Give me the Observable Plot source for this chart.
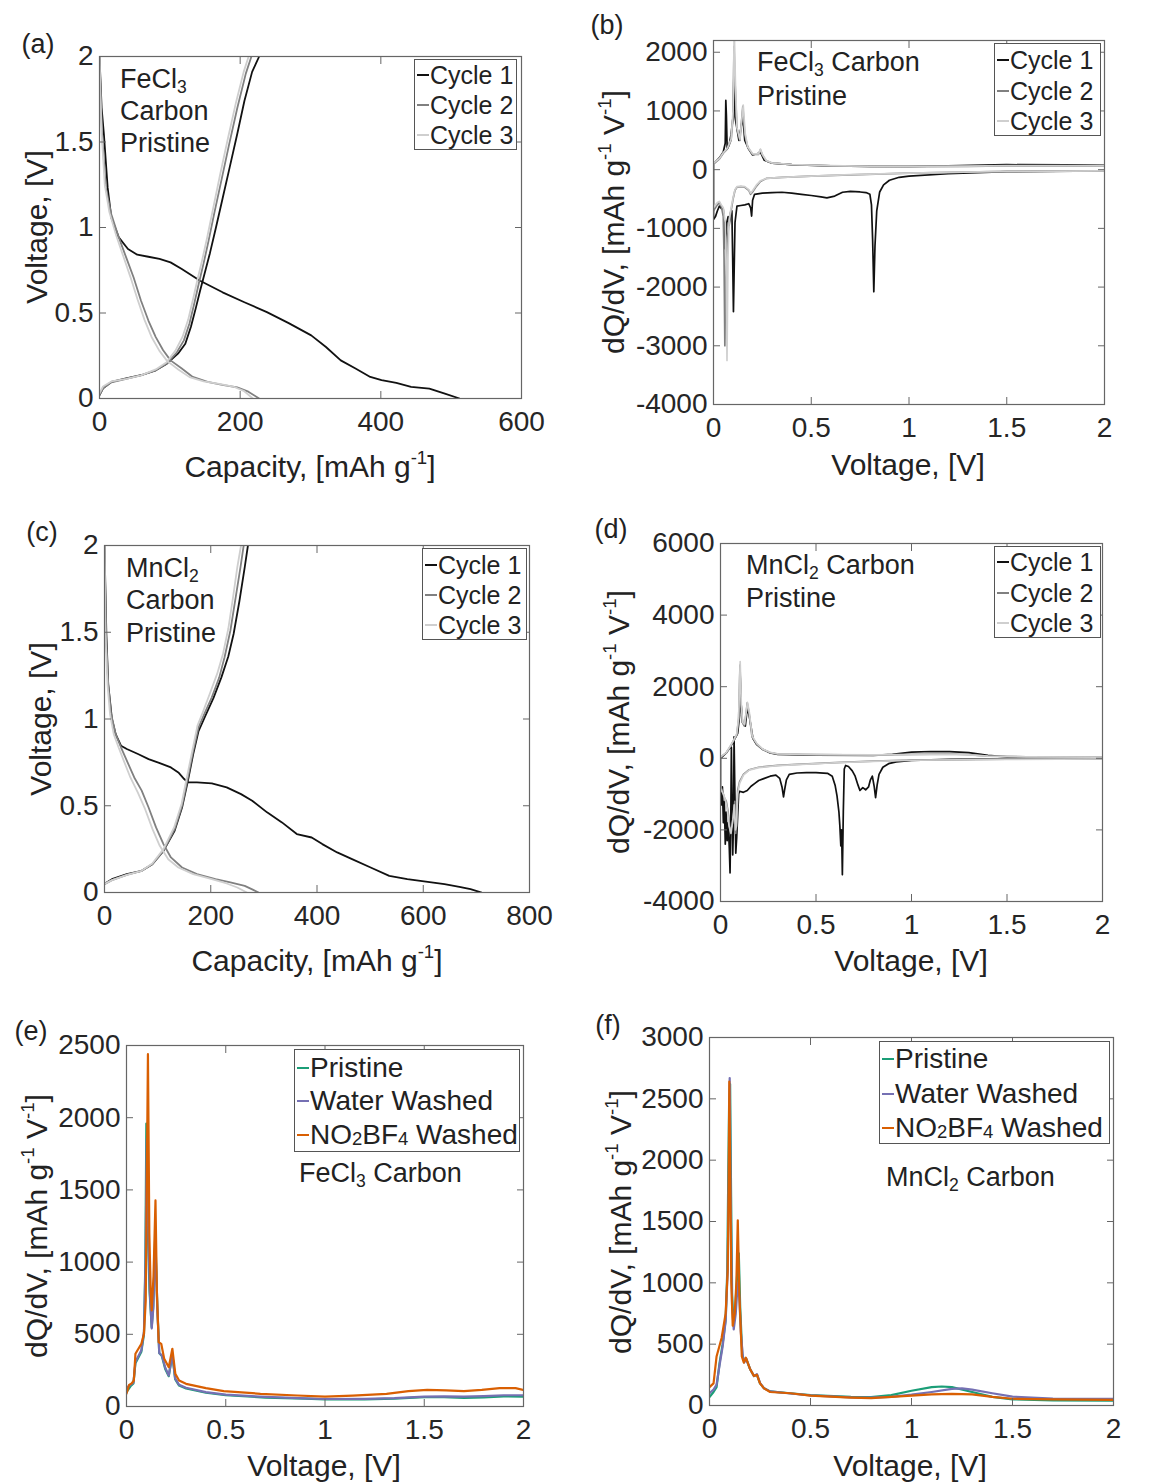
<!DOCTYPE html>
<html>
<head>
<meta charset="utf-8">
<script src="https://cdn.jsdelivr.net/npm/d3@7"></script>
<script src="https://cdn.jsdelivr.net/npm/@observablehq/plot@0.6"></script>
<style>
  html, body { margin: 0; padding: 0; background: #fff; }
  #root { position: relative; width: 1166px; height: 1483px; background: #fff; overflow: hidden;
          font-family: 'Liberation Sans', Arial, Helvetica, sans-serif; color: #222; }
  .t { position: absolute; white-space: nowrap; line-height: 1; }
  .sup { font-size: 0.62em; position: relative; top: -0.72em; }
  .sub { font-size: 0.65em; position: relative; top: 0.28em; }
  .sm { font-size: 0.66em; position: relative; top: 0.08em; }
  .leg { position: absolute; border: 1.3px solid #555; background: #fff; box-sizing: border-box; }
</style>
</head>
<body>
<div id="root"></div>
<script>
// ---------------- DATA ----------------
// Panel (a): FeCl3 carbon, capacity [mAh/g] vs voltage [V]
const a_c1_dis = [[0,2.0],[1,1.9],[3,1.7],[6.3,1.544],[11.6,1.233],[16.8,1.058],[27.4,0.942],[40.5,0.874],[53.7,0.841],[69.5,0.829],[85.3,0.816],[101,0.796],[117,0.757],[143,0.689],[175,0.621],[206,0.563],[238,0.505],[269,0.441],[301,0.369],[322,0.301],[343,0.223],[364,0.175],[385,0.126],[401,0.107],[422,0.091],[443,0.068],[469,0.058],[491,0.029],[512,0]];
const a_c1_chg = [[0,0.02],[5,0.06],[16.8,0.097],[37.9,0.117],[58.9,0.136],[80,0.165],[95.8,0.204],[111.6,0.262],[122,0.32],[130,0.42],[137,0.53],[143,0.63],[150,0.74],[157,0.85],[165,0.99],[175,1.17],[185,1.35],[196,1.55],[206,1.74],[217,1.91],[227,2.0]];
const a_c2_dis = [[0,2.0],[1.5,1.8],[3.7,1.544],[8.9,1.233],[16.8,1.078],[27.4,0.942],[37.9,0.825],[48.4,0.709],[58.9,0.573],[69.5,0.456],[80,0.359],[90.5,0.282],[101,0.223],[117,0.175],[132.6,0.126],[153.7,0.097],[174.7,0.08],[195.8,0.065],[211.6,0.04],[227,0.0]];
const a_c2_chg = [[0,0.02],[5,0.06],[16.8,0.095],[37.9,0.115],[58.9,0.135],[80,0.165],[95.8,0.205],[110,0.27],[120,0.34],[128,0.44],[135,0.56],[141,0.67],[148,0.79],[155,0.92],[163,1.08],[173,1.27],[184,1.48],[196,1.7],[208,1.9],[216,2.0]];
const a_c3_dis = [[0,2.0],[1.2,1.8],[3,1.55],[7.5,1.25],[14,1.09],[24,0.95],[34,0.83],[44,0.71],[54,0.58],[64,0.46],[74,0.36],[85,0.28],[96,0.22],[112,0.17],[128,0.125],[148,0.1],[170,0.085],[190,0.07],[205,0.045],[218,0.0]];
const a_c3_chg = [[0,0.03],[5,0.07],[16.8,0.1],[37.9,0.115],[58.9,0.135],[80,0.17],[95,0.21],[108,0.28],[118,0.36],[126,0.46],[133,0.58],[139,0.69],[146,0.81],[153,0.94],[161,1.1],[171,1.3],[182,1.51],[194,1.73],[205,1.91],[212,2.0]];

// Panel (b): FeCl3 carbon dQ/dV (discharge from 2 V to 0 V, then charge 0 V to 2 V)
const b_c1 = [[2.0,-20],[1.5,-35],[1.2,-70],[1.0,-110],[0.95,-130],[0.9,-180],[0.87,-260],[0.85,-380],[0.835,-700],[0.826,-1300],[0.82,-2080],[0.814,-1200],[0.808,-600],[0.8,-420],[0.78,-390],[0.75,-380],[0.7,-370],[0.66,-385],[0.62,-450],[0.58,-480],[0.55,-465],[0.5,-440],[0.45,-420],[0.4,-400],[0.35,-385],[0.3,-390],[0.25,-400],[0.21,-420],[0.2,-520],[0.195,-790],[0.19,-650],[0.18,-580],[0.16,-600],[0.14,-610],[0.12,-620],[0.11,-900],[0.102,-2420],[0.098,-1500],[0.094,-700],[0.088,-720],[0.08,-950],[0.075,-800],[0.068,-900],[0.06,-1350],[0.056,-900],[0.05,-680],[0.04,-660],[0.03,-620],[0.02,-700],[0.01,-800],[0.0,-850],
  [0.0,100],[0.03,200],[0.05,300],[0.06,450],[0.063,1180],[0.066,920],[0.07,350],[0.08,420],[0.09,600],[0.1,900],[0.105,1700],[0.11,900],[0.13,500],[0.15,900],[0.16,500],[0.18,350],[0.2,250],[0.23,280],[0.24,300],[0.26,160],[0.3,110],[0.4,85],[0.6,65],[0.8,55],[1.0,55],[1.2,65],[1.5,85],[1.8,80],[2.0,75]];
const b_c2 = [[2.0,-20],[1.5,-30],[1.0,-60],[0.7,-90],[0.5,-110],[0.35,-130],[0.27,-150],[0.24,-200],[0.22,-280],[0.2,-380],[0.19,-420],[0.18,-350],[0.16,-300],[0.14,-290],[0.12,-300],[0.11,-350],[0.1,-500],[0.09,-700],[0.08,-900],[0.07,-1200],[0.062,-2000],[0.058,-3000],[0.054,-1500],[0.05,-800],[0.04,-620],[0.03,-560],[0.02,-600],[0.01,-650],[0.0,-700],
  [0.0,100],[0.03,180],[0.05,280],[0.07,350],[0.09,500],[0.1,900],[0.105,2100],[0.11,1500],[0.12,700],[0.135,500],[0.15,1080],[0.16,600],[0.175,380],[0.2,260],[0.23,260],[0.24,340],[0.25,250],[0.27,150],[0.3,110],[0.4,85],[0.6,65],[0.8,55],[1.0,50],[1.3,55],[1.5,65],[1.8,65],[2.0,60]];
const b_c3 = [[2.0,-20],[1.5,-30],[1.0,-60],[0.7,-85],[0.5,-110],[0.35,-130],[0.27,-150],[0.24,-190],[0.22,-260],[0.2,-360],[0.19,-400],[0.18,-340],[0.16,-290],[0.14,-280],[0.12,-290],[0.11,-340],[0.1,-480],[0.09,-650],[0.08,-850],[0.074,-1500],[0.069,-3250],[0.065,-1600],[0.06,-900],[0.05,-650],[0.04,-600],[0.03,-540],[0.02,-560],[0.01,-600],[0.0,-650],
  [0.0,110],[0.03,190],[0.05,290],[0.07,360],[0.09,520],[0.1,1000],[0.106,2400],[0.112,1500],[0.12,720],[0.135,520],[0.152,1100],[0.162,620],[0.175,390],[0.2,270],[0.23,270],[0.24,350],[0.25,260],[0.27,155],[0.3,115],[0.4,88],[0.6,68],[0.8,58],[1.0,55],[1.3,60],[1.5,70],[1.8,70],[2.0,65]];

// Panel (c): MnCl2 carbon, capacity vs voltage
const c_c1_dis = [[0,2.0],[3.5,1.49],[7,1.2],[14,1.0],[21,0.913],[31,0.846],[42,0.827],[63,0.798],[83,0.769],[104,0.746],[125,0.721],[139,0.692],[150,0.654],[157,0.635],[174,0.635],[202,0.629],[230,0.606],[257,0.567],[278,0.529],[306,0.462],[334,0.404],[362,0.337],[390,0.317],[410,0.279],[438,0.231],[466,0.192],[501,0.144],[536,0.096],[570,0.077],[605,0.063],[640,0.048],[668,0.033],[689,0.019],[710,0]];
const c_c1_chg = [[0,0.05],[14,0.077],[42,0.106],[70,0.125],[90,0.163],[111,0.24],[132,0.356],[146,0.49],[157,0.644],[167,0.798],[177,0.93],[190,1.02],[205,1.12],[220,1.24],[233,1.36],[243,1.49],[254,1.68],[264,1.875],[270,2.0]];
const c_c2_dis = [[0,2.0],[2.8,1.49],[7,1.2],[12.5,1.029],[21,0.913],[31,0.837],[42,0.76],[56,0.663],[70,0.587],[83,0.49],[97,0.375],[111,0.279],[125,0.202],[146,0.144],[174,0.106],[209,0.077],[237,0.058],[264,0.038],[280,0.015],[290,0]];
const c_c2_chg = [[0,0.048],[14,0.071],[42,0.102],[70,0.125],[90,0.163],[111,0.24],[132,0.365],[146,0.5],[157,0.663],[167,0.817],[177,0.952],[188,1.029],[202,1.125],[216,1.24],[226,1.356],[237,1.51],[247,1.702],[256,1.875],[262,2.0]];
const c_c3_dis = [[0,2.0],[2,1.49],[5.6,1.2],[10.4,1.029],[17.4,0.913],[26.4,0.837],[36.2,0.76],[48.7,0.663],[62.6,0.577],[76.5,0.48],[90.4,0.365],[104,0.269],[120,0.192],[139,0.144],[167,0.106],[202,0.077],[230,0.052],[250,0.029],[268,0]];
const c_c3_chg = [[0,0.05],[14,0.071],[42,0.102],[70,0.125],[90,0.167],[111,0.25],[131,0.375],[145,0.51],[155,0.663],[166,0.827],[175,0.962],[185,1.038],[198,1.144],[212,1.26],[223,1.375],[233,1.52],[242,1.702],[250,1.875],[257,2.0]];

// Panel (d): MnCl2 carbon dQ/dV
const d_c1 = [[2.0,-10],[1.5,-15],[1.2,-30],[1.0,-60],[0.92,-100],[0.88,-150],[0.85,-250],[0.83,-450],[0.82,-750],[0.812,-1100],[0.805,-800],[0.795,-500],[0.785,-600],[0.775,-800],[0.76,-880],[0.745,-820],[0.73,-900],[0.72,-750],[0.705,-500],[0.69,-350],[0.67,-230],[0.655,-200],[0.648,-300],[0.643,-1500],[0.638,-3250],[0.634,-2000],[0.63,-2450],[0.625,-1900],[0.62,-1500],[0.61,-1050],[0.6,-750],[0.585,-500],[0.56,-420],[0.5,-400],[0.45,-400],[0.4,-410],[0.36,-450],[0.345,-600],[0.335,-900],[0.33,-1080],[0.322,-800],[0.31,-560],[0.29,-470],[0.26,-500],[0.23,-560],[0.2,-620],[0.18,-700],[0.16,-780],[0.14,-900],[0.12,-950],[0.1,-920],[0.095,-1000],[0.085,-2200],[0.08,-2650],[0.077,-1500],[0.074,-500],[0.071,600],[0.068,-1800],[0.064,-2700],[0.06,-1000],[0.057,300],[0.054,-1600],[0.05,-3200],[0.046,-2500],[0.04,-1800],[0.035,-2300],[0.03,-1500],[0.025,-2400],[0.02,-1200],[0.015,-1800],[0.01,-800],[0.005,-1300],[0.0,-1000],
  [0.0,0],[0.03,150],[0.05,300],[0.07,500],[0.09,700],[0.1,1200],[0.103,2300],[0.108,1500],[0.115,1000],[0.13,900],[0.14,1400],[0.15,1200],[0.17,550],[0.19,380],[0.22,250],[0.26,150],[0.3,110],[0.5,90],[0.8,80],[0.9,110],[1.0,170],[1.1,190],[1.2,185],[1.3,160],[1.4,80],[1.5,40],[1.7,30],[2.0,20]];
const d_c2 = [[2.0,-15],[1.5,-25],[1.0,-50],[0.8,-80],[0.6,-120],[0.4,-170],[0.3,-200],[0.2,-250],[0.15,-320],[0.12,-450],[0.1,-650],[0.09,-900],[0.085,-1800],[0.08,-2100],[0.075,-1200],[0.07,-1500],[0.06,-1900],[0.05,-2000],[0.04,-1500],[0.03,-1200],[0.02,-1100],[0.01,-900],[0.0,-800],
  [0.0,30],[0.03,150],[0.05,320],[0.07,500],[0.085,650],[0.095,1100],[0.102,2600],[0.108,1500],[0.115,1000],[0.125,900],[0.135,1300],[0.14,1550],[0.15,1250],[0.165,600],[0.19,400],[0.22,250],[0.26,160],[0.3,120],[0.5,100],[0.8,90],[1.0,110],[1.2,120],[1.3,100],[1.4,60],[1.6,40],[2.0,30]];
const d_c3 = [[2.0,-20],[1.5,-30],[1.0,-55],[0.8,-85],[0.6,-125],[0.4,-175],[0.3,-205],[0.2,-260],[0.15,-330],[0.12,-470],[0.1,-700],[0.09,-1000],[0.083,-1900],[0.078,-2000],[0.072,-1300],[0.065,-1700],[0.055,-2100],[0.045,-1900],[0.035,-1400],[0.025,-1150],[0.015,-1000],[0.0,-850],
  [0.0,40],[0.03,160],[0.05,330],[0.07,520],[0.085,680],[0.095,1150],[0.103,2700],[0.109,1500],[0.116,1000],[0.126,950],[0.136,1350],[0.141,1560],[0.151,1280],[0.166,620],[0.19,410],[0.22,260],[0.26,165],[0.3,125],[0.5,105],[0.8,95],[1.0,100],[1.2,110],[1.3,95],[1.4,60],[1.6,40],[2.0,35]];

// Panel (e): FeCl3 carbon charge dQ/dV, three treatments
const e_pristine = [[0,100],[0.02,140],[0.035,160],[0.045,300],[0.06,340],[0.075,380],[0.088,500],[0.095,1000],[0.1,1960],[0.106,1300],[0.116,800],[0.127,550],[0.135,700],[0.145,1200],[0.155,700],[0.165,370],[0.178,350],[0.195,260],[0.213,210],[0.231,360],[0.245,190],[0.265,145],[0.3,125],[0.4,95],[0.5,78],[0.7,62],[0.9,54],[1.0,50],[1.2,50],[1.35,55],[1.5,65],[1.6,65],[1.7,60],[1.8,63],[1.9,70],[2.0,68]];
const e_water = [[0,130],[0.02,150],[0.035,165],[0.045,310],[0.06,350],[0.075,390],[0.088,520],[0.096,1000],[0.102,1850],[0.109,1250],[0.118,780],[0.127,540],[0.135,680],[0.145,1150],[0.155,680],[0.165,370],[0.178,355],[0.195,270],[0.213,215],[0.231,360],[0.245,195],[0.265,150],[0.3,130],[0.4,100],[0.5,82],[0.7,66],[0.9,56],[1.0,52],[1.2,53],[1.35,58],[1.5,68],[1.6,70],[1.7,68],[1.8,72],[1.9,78],[2.0,78]];
const e_no2bf4 = [[0,88],[0.013,150],[0.026,160],[0.037,180],[0.045,365],[0.06,400],[0.075,434],[0.088,503],[0.097,734],[0.108,2440],[0.115,1200],[0.122,800],[0.127,665],[0.136,900],[0.146,1427],[0.153,800],[0.162,446],[0.175,434],[0.19,330],[0.213,272],[0.231,400],[0.246,226],[0.265,180],[0.3,157],[0.4,127],[0.49,106],[0.675,88],[0.86,76],[1.0,69],[1.14,76],[1.31,88],[1.42,106],[1.515,115],[1.61,111],[1.7,106],[1.79,115],[1.88,127],[1.96,127],[2.0,115]];

// Panel (f): MnCl2 carbon charge dQ/dV, three treatments
const f_pristine = [[0,68],[0.02,110],[0.035,150],[0.05,350],[0.065,500],[0.08,700],[0.088,1100],[0.093,1900],[0.097,2450],[0.102,2620],[0.107,1700],[0.112,900],[0.118,700],[0.128,800],[0.138,1100],[0.145,1240],[0.152,800],[0.162,420],[0.172,360],[0.182,380],[0.2,300],[0.22,240],[0.235,250],[0.25,180],[0.27,140],[0.3,115],[0.4,100],[0.5,85],[0.7,70],[0.8,68],[0.9,85],[1.0,120],[1.1,150],[1.15,155],[1.2,150],[1.3,110],[1.4,70],[1.5,50],[1.7,42],[2.0,40]];
const f_water = [[0,100],[0.02,130],[0.035,170],[0.05,330],[0.065,480],[0.08,690],[0.09,1100],[0.097,2100],[0.1,2670],[0.106,1500],[0.112,800],[0.12,620],[0.13,750],[0.14,1000],[0.147,900],[0.155,600],[0.165,400],[0.172,350],[0.182,380],[0.2,300],[0.22,240],[0.235,255],[0.25,185],[0.27,140],[0.3,115],[0.4,98],[0.5,82],[0.7,66],[0.8,65],[0.9,70],[1.0,88],[1.1,110],[1.2,135],[1.25,140],[1.3,130],[1.4,100],[1.5,72],[1.7,57],[2.0,55]];
const f_no2bf4 = [[0,150],[0.02,180],[0.035,400],[0.06,550],[0.08,750],[0.09,1100],[0.095,1800],[0.098,2640],[0.103,1800],[0.108,1000],[0.115,650],[0.125,750],[0.133,1000],[0.14,1510],[0.148,900],[0.16,400],[0.17,350],[0.18,390],[0.2,300],[0.22,240],[0.235,250],[0.25,180],[0.27,140],[0.3,110],[0.4,100],[0.5,80],[0.7,65],[0.8,60],[0.9,70],[1.0,80],[1.1,90],[1.2,95],[1.3,90],[1.4,70],[1.5,55],[1.7,50],[2.0,45]];

// Tick values
const ticksCapA = [0, 200, 400, 600];
const ticksCapC = [0, 200, 400, 600, 800];
const ticksVolt = [0, 0.5, 1, 1.5, 2];
const ticksVoltY = [0, 0.5, 1, 1.5, 2];
const ticksB = [-4000, -3000, -2000, -1000, 0, 1000, 2000];
const ticksD = [-4000, -2000, 0, 2000, 4000, 6000];
const ticksE = [0, 500, 1000, 1500, 2000, 2500];
const ticksF = [0, 500, 1000, 1500, 2000, 2500, 3000];

// Legend labels and colours
const cycleLabels = ["Cycle 1", "Cycle 2", "Cycle 3"];
const cycleColors = ["#111111", "#808080", "#cfcfcf"];
const treatLabels = ["Pristine", "Water Washed", "NO<span class='sm'>2</span>BF<span class='sm'>4</span> Washed"];
const treatColors = ["#1b9e77", "#7570b3", "#d95f02"];

// ---------------- DRAWING ----------------
const FONT = "'Liberation Sans', Arial, Helvetica, sans-serif";
const root = document.getElementById("root");

function makePanel(p) {
  const ml = 100, mr = 25, mt = 25, mb = 55;
  const W = p.x1 - p.x0 + ml + mr, H = p.y1 - p.y0 + mt + mb;
  const lines = p.series.map(s => Plot.line(s.data, {
    x: d => d[0], y: d => d[1], stroke: s.color, strokeWidth: s.width || 1.8,
    clip: true, strokeLinejoin: "round"
  }));
  const tk = "#666";
  const svg = Plot.plot({
    width: W, height: H,
    marginLeft: ml, marginRight: mr, marginTop: mt, marginBottom: mb,
    style: {background: "transparent", fontFamily: FONT, color: "#262626", overflow: "visible"},
    x: {domain: p.xDomain, label: null},
    y: {domain: p.yDomain, label: null},
    marks: [
      ...lines,
      Plot.axisX(p.xTicks, {anchor: "bottom", tickSize: -7, fill: "none", stroke: tk, label: null}),
      Plot.axisX(p.xTicks, {anchor: "top", tickSize: -7, fill: "none", stroke: tk, label: null}),
      Plot.axisY(p.yTicks, {anchor: "left", tickSize: -7, fill: "none", stroke: tk, label: null}),
      Plot.axisY(p.yTicks, {anchor: "right", tickSize: -7, fill: "none", stroke: tk, label: null}),
      Plot.axisX(p.xTicks, {anchor: "bottom", tickSize: 0, tickPadding: 13, fontSize: 28, tickFormat: d => String(d), label: null}),
      Plot.axisY(p.yTicks, {anchor: "left", tickSize: 0, tickPadding: 6, fontSize: 28, tickFormat: d => String(d), label: null}),
      Plot.frame({stroke: tk, strokeWidth: 1.2})
    ]
  });
  svg.style.position = "absolute";
  svg.style.left = (p.x0 - ml) + "px";
  svg.style.top = (p.y0 - mt) + "px";
  root.appendChild(svg);
}

function text(html, x, y, size, align = "left", rotate = false) {
  const el = document.createElement("div");
  el.className = "t";
  el.innerHTML = html;
  el.style.left = x + "px";
  el.style.top = y + "px";
  el.style.fontSize = size + "px";
  let tr = align === "center" ? "translate(-50%,-50%)" : "translate(0,-50%)";
  if (rotate) tr += " rotate(-90deg)";
  el.style.transform = tr;
  root.appendChild(el);
}

function legend(x, y, w, h, rows, labels, colors, size) {
  const box = document.createElement("div");
  box.className = "leg";
  box.style.left = x + "px"; box.style.top = y + "px";
  box.style.width = w + "px"; box.style.height = h + "px";
  root.appendChild(box);
  labels.forEach((lab, i) => {
    const ln = document.createElement("div");
    ln.style.position = "absolute";
    ln.style.left = (x + 3) + "px";
    ln.style.top = (rows[i] - 1) + "px";
    ln.style.width = "12px";
    ln.style.height = "2px";
    ln.style.background = colors[i];
    root.appendChild(ln);
    text(lab, x + 16, rows[i], size);
  });
}

const S = (data, color, width) => ({data, color, width});

makePanel({x0: 99, x1: 521, y0: 56, y1: 398, xDomain: [0, 600], yDomain: [0, 2], xTicks: ticksCapA, yTicks: ticksVoltY,
  series: [S(a_c1_dis, cycleColors[0]), S(a_c1_chg, cycleColors[0]), S(a_c2_dis, cycleColors[1]), S(a_c2_chg, cycleColors[1]), S(a_c3_dis, cycleColors[2]), S(a_c3_chg, cycleColors[2])]});
makePanel({x0: 713, x1: 1104, y0: 40, y1: 404, xDomain: [0, 2], yDomain: [-4000, 2200], xTicks: ticksVolt, yTicks: ticksB,
  series: [S(b_c1, cycleColors[0], 1.7), S(b_c2, cycleColors[1], 1.7), S(b_c3, cycleColors[2], 1.7)]});
makePanel({x0: 104, x1: 529, y0: 545, y1: 892, xDomain: [0, 800], yDomain: [0, 2], xTicks: ticksCapC, yTicks: ticksVoltY,
  series: [S(c_c1_dis, cycleColors[0]), S(c_c1_chg, cycleColors[0]), S(c_c2_dis, cycleColors[1]), S(c_c2_chg, cycleColors[1]), S(c_c3_dis, cycleColors[2]), S(c_c3_chg, cycleColors[2])]});
makePanel({x0: 720, x1: 1102, y0: 543, y1: 901, xDomain: [0, 2], yDomain: [-4000, 6000], xTicks: ticksVolt, yTicks: ticksD,
  series: [S(d_c1, cycleColors[0], 1.7), S(d_c2, cycleColors[1], 1.7), S(d_c3, cycleColors[2], 1.7)]});
makePanel({x0: 126, x1: 523, y0: 1045, y1: 1406, xDomain: [0, 2], yDomain: [0, 2500], xTicks: ticksVolt, yTicks: ticksE,
  series: [S(e_pristine, treatColors[0], 2.2), S(e_water, treatColors[1], 2.2), S(e_no2bf4, treatColors[2], 2.2)]});
makePanel({x0: 709, x1: 1113, y0: 1037, y1: 1405, xDomain: [0, 2], yDomain: [0, 3000], xTicks: ticksVolt, yTicks: ticksF,
  series: [S(f_pristine, treatColors[0], 2.2), S(f_water, treatColors[1], 2.2), S(f_no2bf4, treatColors[2], 2.2)]});

// Panel labels
text("(a)", 38, 44, 27, "center");
text("(b)", 607, 25, 27, "center");
text("(c)", 42, 532, 27, "center");
text("(d)", 611, 529, 27, "center");
text("(e)", 31, 1031, 27, "center");
text("(f)", 608, 1025, 27, "center");

// Axis titles
const capTitle = "Capacity, [mAh g<span class='sup'>-1</span>]";
const voltTitle = "Voltage, [V]";
const dqTitle = "dQ/dV, [mAh g<span class='sup'>-1</span> V<span class='sup'>-1</span>]";
text(voltTitle, 37, 227, 30, "center", true);
text(capTitle, 310, 467, 30, "center");
text(dqTitle, 614, 222, 30, "center", true);
text(voltTitle, 908, 465, 30, "center");
text(voltTitle, 41, 719, 30, "center", true);
text(capTitle, 317, 961, 30, "center");
text(dqTitle, 619, 722, 30, "center", true);
text(voltTitle, 911, 961, 30, "center");
text(dqTitle, 37, 1226, 30, "center", true);
text(voltTitle, 324, 1466, 30, "center");
text(dqTitle, 621, 1222, 30, "center", true);
text(voltTitle, 910, 1466, 30, "center");

// Annotations
text("FeCl<span class='sub'>3</span>", 120, 79, 27);
text("Carbon", 120, 111, 27);
text("Pristine", 120, 143, 27);
text("FeCl<span class='sub'>3</span> Carbon", 757, 62, 27);
text("Pristine", 757, 96, 27);
text("MnCl<span class='sub'>2</span>", 126, 568, 27);
text("Carbon", 126, 600, 27);
text("Pristine", 126, 633, 27);
text("MnCl<span class='sub'>2</span> Carbon", 746, 565, 27);
text("Pristine", 746, 598, 27);
text("FeCl<span class='sub'>3</span> Carbon", 299, 1173, 27);
text("MnCl<span class='sub'>2</span> Carbon", 886, 1177, 27);

// Legends
legend(414, 59, 103, 91, [75, 105, 135], cycleLabels, cycleColors, 25);
legend(994, 43, 107, 93, [60, 91, 121], cycleLabels, cycleColors, 25);
legend(422, 548, 105, 92, [565, 595, 625], cycleLabels, cycleColors, 25);
legend(994, 546, 107, 92, [562, 593, 623], cycleLabels, cycleColors, 25);
legend(294, 1049, 226, 103, [1068, 1101, 1135], treatLabels, treatColors, 28);
legend(879, 1041, 231, 103, [1059, 1094, 1128], treatLabels, treatColors, 28);
</script>
</body>
</html>
